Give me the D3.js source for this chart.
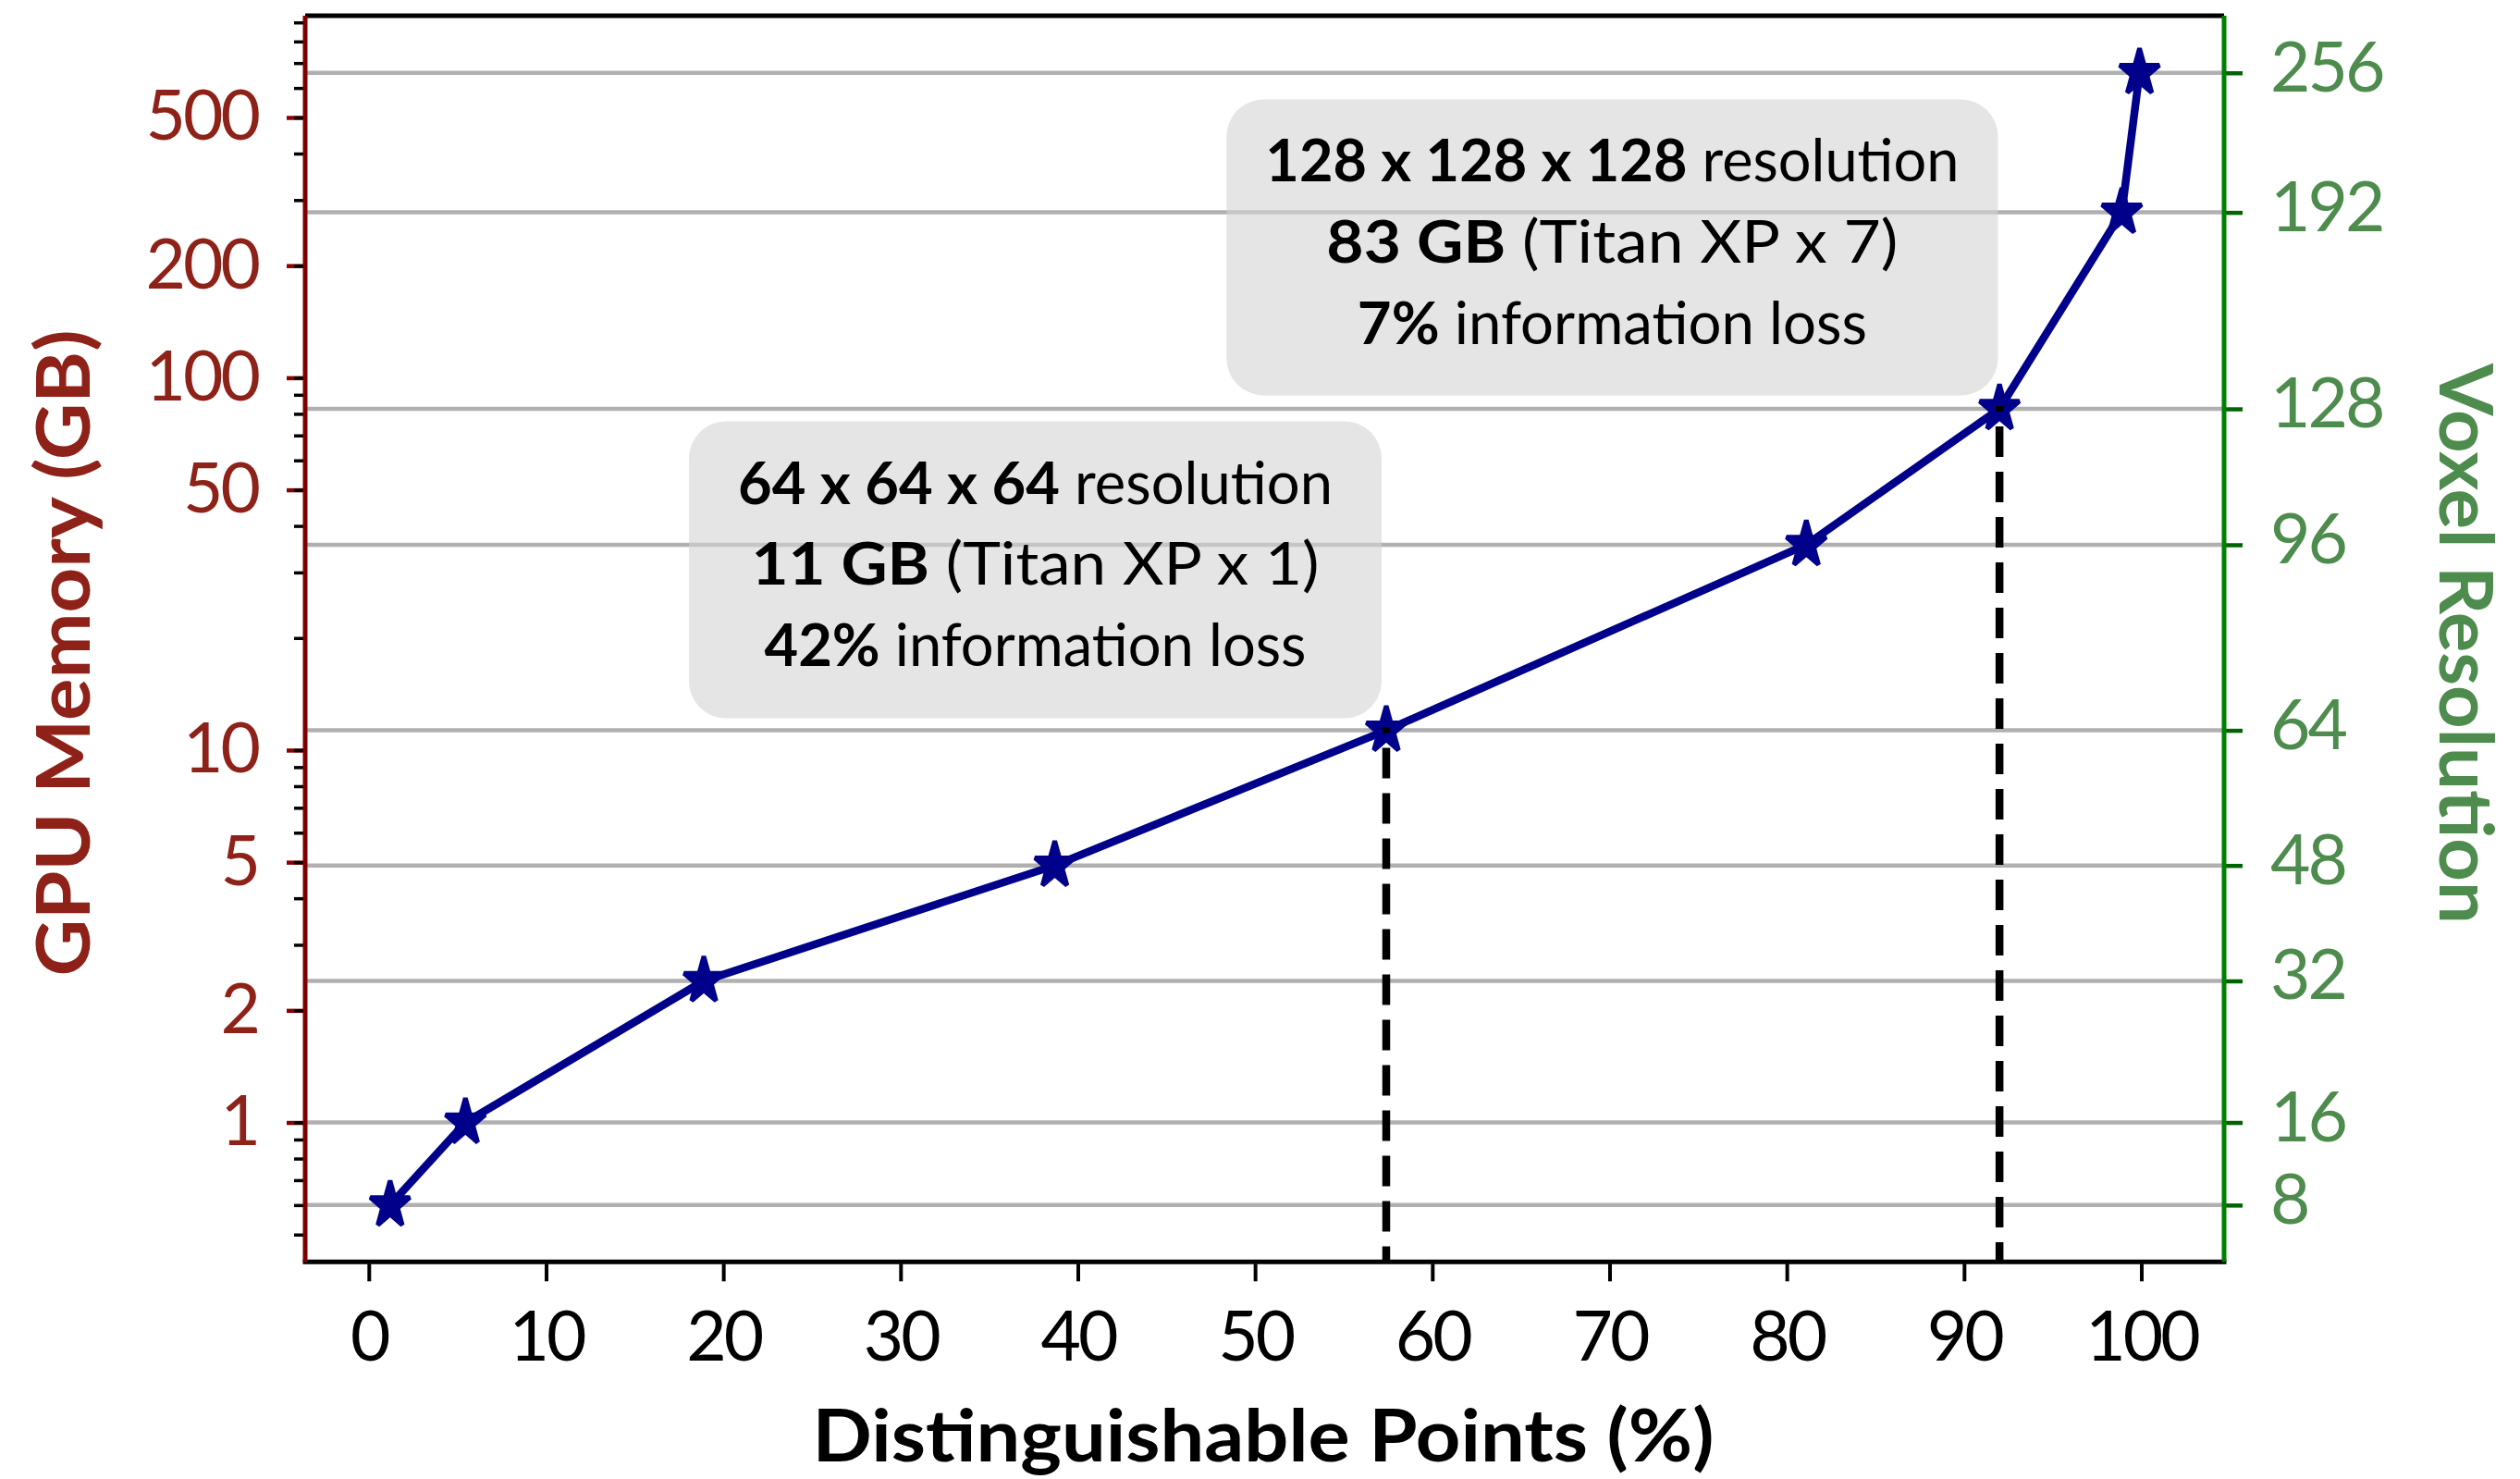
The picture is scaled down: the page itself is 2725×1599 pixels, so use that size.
<!DOCTYPE html>
<html>
<head>
<meta charset="utf-8">
<script src="https://cdn.jsdelivr.net/npm/d3@7"></script>
<style>
  body { margin: 0; background: #fff; }
  svg { display: block; }
  text { font-family: Lato, "DejaVu Sans", sans-serif; }
</style>
</head>
<body>
<div id="chart"></div>
<script>
// values
var distinguishable = [1.2, 5.45, 18.9, 38.7, 57.4, 81.1, 92.0, 98.9, 99.9];   // x, %
var gpuMemory = [0.6, 1.0, 2.4, 4.9, 11.3, 35.6, 82.5, 278, 659];               // left axis, GB
var voxelRes = [8, 16, 32, 48, 64, 96, 128, 192, 256];                         // right axis labels
var xTicks = [0, 10, 20, 30, 40, 50, 60, 70, 80, 90, 100];
var memTicks = [1, 2, 5, 10, 50, 100, 200, 500];
var dropIdx = [4, 6];   // points with dashed drop lines

var box64 = [["64 x 64 x 64", " resolution"], ["11 GB", " (Titan XP x 1)"], ["42%", " information loss"]];
var box128 = [["128 x 128 x 128", " resolution"], ["83 GB", " (Titan XP x 7)"], ["7%", " information loss"]];

var W = 2725, H = 1599;
var pLeft = 330, pRight = 2405, pTop = 17, pBottom = 1364.3;

var svg = d3.select("#chart").append("svg")
  .attr("width", W).attr("height", H);

var x = d3.scaleLinear().domain([-3.59, 104.67]).range([pLeft, pRight]);
var y = d3.scaleLog().domain([0.4222, 938]).range([pBottom, pTop]);

var red = "#8e2219", green = "#4e8c4e";

// minor tick positions for the log axis
var minor = [];
[-1, 0, 1, 2].forEach(function(e) {
  for (var k = 1; k < 10; k++) {
    var v = k * Math.pow(10, e);
    if (v >= y.domain()[0] && v <= y.domain()[1]) minor.push(v);
  }
});

// horizontal grid at voxel resolution levels
svg.append("g").selectAll("line")
  .data(gpuMemory)
  .enter().append("line")
  .attr("x1", pLeft).attr("x2", pRight)
  .attr("y1", function(d) { return y(d); })
  .attr("y2", function(d) { return y(d); })
  .attr("stroke", "#b0b0b0").attr("stroke-width", 4.5);

// annotation boxes
function drawBox(lines, cx, cy, w, h, widths) {
  var px = x(cx), py = y(cy);
  svg.append("rect")
    .attr("x", px - w / 2).attr("y", py - h / 2)
    .attr("width", w).attr("height", h)
    .attr("rx", 40).attr("ry", 40)
    .attr("fill", "#d3d3d3").attr("fill-opacity", 0.6);
  var offs = [-71, 16.5, 104.5];
  lines.forEach(function(l, i) {
    var t = svg.append("text")
      .attr("x", px).attr("y", py + offs[i])
      .attr("text-anchor", "middle")
      .attr("font-size", 63)
      .attr("textLength", widths[i])
      .attr("lengthAdjust", "spacingAndGlyphs")
      .attr("fill", "#000");
    t.append("tspan").attr("font-weight", "bold").text(l[0]);
    t.append("tspan").attr("font-weight", "normal").text(l[1]);
  });
}
drawBox(box64, 37.6, 30.5, 749, 321, [643, 614, 586]);
drawBox(box128, 70.15, 224, 834, 320, [750, 618, 551]);

// main curve
var line = d3.line()
  .x(function(d, i) { return x(distinguishable[i]); })
  .y(function(d) { return y(d); });

svg.append("path")
  .datum(gpuMemory)
  .attr("d", line)
  .attr("fill", "none")
  .attr("stroke", "#00008b")
  .attr("stroke-width", 8.5)
  .attr("stroke-linejoin", "round");

function starPath(rx, ry) {
  var pts = [];
  for (var i = 0; i < 10; i++) {
    var r = i % 2 ? 0.381966 : 1;
    var a = -Math.PI / 2 + i * Math.PI / 5;
    pts.push([rx * r * Math.cos(a), ry * r * Math.sin(a)]);
  }
  return "M" + pts.join("L") + "Z";
}

svg.append("g").selectAll("path")
  .data(gpuMemory)
  .enter().append("path")
  .attr("d", starPath(22.5, 26.5))
  .attr("transform", function(d, i) {
    return "translate(" + x(distinguishable[i]) + "," + y(d) + ")";
  })
  .attr("fill", "#00008b")
  .attr("stroke", "#00008b")
  .attr("stroke-width", 5)
  .attr("stroke-linejoin", "bevel");

// dashed drop lines
svg.append("g").selectAll("line")
  .data(dropIdx)
  .enter().append("line")
  .attr("x1", function(i) { return x(distinguishable[i]); })
  .attr("x2", function(i) { return x(distinguishable[i]); })
  .attr("y1", function(i) { return y(gpuMemory[i]) - 3; })
  .attr("y2", pBottom)
  .attr("stroke", "#000")
  .attr("stroke-width", 8.5)
  .attr("stroke-dasharray", "33 16")
  .attr("stroke-dashoffset", 27);

// x axis
var gx = svg.append("g")
  .attr("transform", "translate(0," + (pBottom + 2) + ")")
  .call(d3.axisBottom(x).tickValues(xTicks).tickSize(19).tickPadding(32));
gx.select(".domain").remove();
gx.selectAll(".tick line").attr("stroke", "#000").attr("stroke-width", 4);
gx.selectAll(".tick text")
  .attr("font-size", 75).attr("letter-spacing", -3)
  .attr("fill", "#000").attr("font-family", "Lato");

// left axis: major + minor
var gl = svg.append("g")
  .attr("transform", "translate(" + (pLeft - 2) + ",0)")
  .call(d3.axisLeft(y).tickValues(memTicks).tickFormat(d3.format("d")).tickSize(18).tickPadding(31));
gl.select(".domain").remove();
gl.selectAll(".tick line").attr("stroke", "#8b0000").attr("stroke-width", 4.5);
gl.selectAll(".tick text")
  .attr("font-size", 75).attr("letter-spacing", -3)
  .attr("fill", red).attr("font-family", "Lato");

var gm = svg.append("g")
  .attr("transform", "translate(" + (pLeft - 2) + ",0)")
  .call(d3.axisLeft(y).tickValues(minor).tickFormat("").tickSize(10));
gm.select(".domain").remove();
gm.selectAll(".tick line").attr("stroke", "#000").attr("stroke-width", 3.5);

// right axis: voxel resolution at memory levels
var gr = svg.append("g")
  .attr("transform", "translate(" + (pRight + 2) + ",0)")
  .call(d3.axisRight(y).tickValues(gpuMemory)
    .tickFormat(function(d, i) { return voxelRes[i]; })
    .tickSize(18).tickPadding(30));
gr.select(".domain").remove();
gr.selectAll(".tick line").attr("stroke", "#006400").attr("stroke-width", 4.5);
gr.selectAll(".tick text")
  .attr("font-size", 75).attr("letter-spacing", -3)
  .attr("fill", green).attr("font-family", "Lato")
  .attr("dy", "0.26em");

// spines
svg.append("line").attr("x1", pLeft).attr("x2", pRight).attr("y1", pTop).attr("y2", pTop)
  .attr("stroke", "#000").attr("stroke-width", 5);
svg.append("line").attr("x1", pLeft - 2.5).attr("x2", pRight + 2.5).attr("y1", pBottom).attr("y2", pBottom)
  .attr("stroke", "#000").attr("stroke-width", 5);
svg.append("line").attr("x1", pLeft).attr("x2", pLeft).attr("y1", pTop).attr("y2", pBottom)
  .attr("stroke", "#800000").attr("stroke-width", 5);
svg.append("line").attr("x1", pRight).attr("x2", pRight).attr("y1", pTop).attr("y2", pBottom)
  .attr("stroke", "#008000").attr("stroke-width", 5);

// axis titles
svg.append("text")
  .attr("transform", "translate(97,706) rotate(-90)")
  .attr("text-anchor", "middle")
  .attr("font-size", 80).attr("font-weight", "bold")
  .attr("textLength", 699).attr("lengthAdjust", "spacingAndGlyphs")
  .attr("fill", red)
  .text("GPU Memory (GB)");

svg.append("text")
  .attr("transform", "translate(2638,696) rotate(90)")
  .attr("text-anchor", "middle")
  .attr("font-size", 80).attr("font-weight", "bold")
  .attr("textLength", 606).attr("lengthAdjust", "spacingAndGlyphs")
  .attr("fill", green)
  .text("Voxel Resolution");

svg.append("text")
  .attr("x", 1366).attr("y", 1580)
  .attr("text-anchor", "middle")
  .attr("font-size", 78).attr("font-weight", "bold")
  .attr("textLength", 975).attr("lengthAdjust", "spacingAndGlyphs")
  .attr("fill", "#000")
  .text("Distinguishable Points (%)");
</script>
</body>
</html>
